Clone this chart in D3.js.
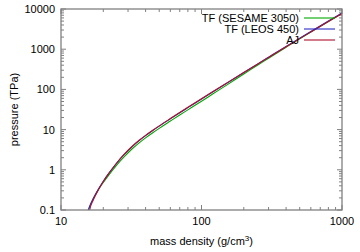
<!DOCTYPE html>
<html>
<head>
<meta charset="utf-8">
<script src="https://cdn.jsdelivr.net/npm/d3@7"></script>
<style>
  body { margin: 0; background: #fff; }
  text { font-family: "Liberation Sans", Arial, sans-serif; font-size: 11px; fill: #000; }
</style>
</head>
<body>
<div id="chart"></div>
<script>
// mass density (g/cm^3), shared by all curves
const density = [15.5, 16, 17, 18, 20, 22, 25, 28, 32, 36, 40, 45, 50, 60, 70, 80,
  100, 120, 150, 200, 250, 300, 400, 500, 600, 800, 1000];

// pressure (TPa)
const sesame3050 = [0.088, 0.121, 0.193, 0.278, 0.484, 0.762, 1.33, 2.06, 3.29, 4.69, 6.23, 8.36,
  10.75, 16.3, 23.1, 31.0, 50.7, 76.5, 126, 242, 397, 597, 1122, 1820, 2680, 4897, 7780];
const leos450 = [0.092, 0.124, 0.195, 0.285, 0.519, 0.835, 1.49, 2.34, 3.73, 5.32, 7.07, 9.49,
  12.2, 18.5, 26.2, 35.2, 57.5, 85.9, 140, 262, 426, 632, 1175, 1884, 2763, 5023, 7962];
const aj = [0.05, 0.1, 0.18, 0.27, 0.51, 0.83, 1.5, 2.38, 3.8, 5.42, 7.2, 9.65,
  12.4, 18.8, 26.6, 35.8, 58.5, 87, 141, 262, 423, 624, 1150, 1835, 2680, 4860, 7700];

const seriesNames = ["TF (SESAME 3050)", "TF (LEOS 450)", "AJ"];
const seriesColors = ["#00a800", "#2a2ac8", "#b0102a"];
const seriesValues = [sesame3050, leos450, aj];

const xTicks = [10, 100, 1000];
const yTicks = [0.1, 1, 10, 100, 1000, 10000];

const width = 360,
  height = 252,
  margin = { top: 9, right: 18, bottom: 42, left: 61 };

const svg = d3
  .select("#chart")
  .append("svg")
  .attr("width", width)
  .attr("height", height);

const x = d3.scaleLog().domain([10, 1000]).range([margin.left, width - margin.right]);
const y = d3.scaleLog().domain([0.1, 10000]).range([height - margin.bottom, margin.top]);

svg
  .append("clipPath")
  .attr("id", "plot_clip")
  .append("rect")
  .attr("x", margin.left)
  .attr("y", margin.top)
  .attr("width", width - margin.left - margin.right)
  .attr("height", height - margin.top - margin.bottom);

// minor ticks: 2..9 in each decade
function minorTicks(lo, hi) {
  const out = [];
  for (let d = lo; d < hi; d *= 10) {
    for (let k = 2; k <= 9; k++) out.push(d * k);
  }
  return out;
}

const tickColor = "#808080";
const ticks = svg.append("g").attr("stroke", tickColor).attr("stroke-width", 1);

function drawTicks(values, len) {
  values.forEach(function (v) {
    // bottom + top
    ticks.append("line")
      .attr("x1", x(v)).attr("x2", x(v))
      .attr("y1", y.range()[0]).attr("y2", y.range()[0] - len);
    ticks.append("line")
      .attr("x1", x(v)).attr("x2", x(v))
      .attr("y1", y.range()[1]).attr("y2", y.range()[1] + len);
  });
}
function drawYTicks(values, len) {
  values.forEach(function (v) {
    ticks.append("line")
      .attr("y1", y(v)).attr("y2", y(v))
      .attr("x1", x.range()[0]).attr("x2", x.range()[0] + len);
    ticks.append("line")
      .attr("y1", y(v)).attr("y2", y(v))
      .attr("x1", x.range()[1]).attr("x2", x.range()[1] - len);
  });
}
drawTicks(xTicks, 5);
drawTicks(minorTicks(10, 1000), 3);
drawYTicks(yTicks, 5);
drawYTicks(minorTicks(0.1, 10000), 3);

// tick labels
svg.append("g")
  .selectAll("text")
  .data(xTicks)
  .enter()
  .append("text")
  .attr("x", (d) => x(d))
  .attr("y", height - margin.bottom + 15)
  .attr("text-anchor", "middle")
  .text((d) => d);

svg.append("g")
  .selectAll("text")
  .data(yTicks)
  .enter()
  .append("text")
  .attr("x", margin.left - 6)
  .attr("y", (d) => y(d) + 4)
  .attr("text-anchor", "end")
  .text((d) => d);

// axis titles
svg.append("text")
  .attr("transform", `translate(18, ${(margin.top + height - margin.bottom) / 2}) rotate(-90)`)
  .attr("text-anchor", "middle")
  .text("pressure (TPa)");

const xTitle = svg.append("text")
  .attr("x", (margin.left + width - margin.right) / 2)
  .attr("y", height - 7)
  .attr("text-anchor", "middle");
xTitle.append("tspan").text("mass density (g/cm");
xTitle.append("tspan").attr("dy", -4).style("font-size", "8px").text("3");
xTitle.append("tspan").attr("dy", 4).text(")");

// curves
const line = d3.line()
  .x((d) => x(d[0]))
  .y((d) => y(d[1]))
  .curve(d3.curveMonotoneX);

const curves = svg.append("g").attr("clip-path", "url(#plot_clip)");
seriesValues.forEach(function (vals, i) {
  curves.append("path")
    .datum(density.map((r, j) => [r, vals[j]]))
    .attr("fill", "none")
    .attr("stroke", seriesColors[i])
    .attr("stroke-width", 1.1)
    .attr("d", line);
});

// legend
const legend = svg.append("g");
seriesNames.forEach(function (name, i) {
  const ly = 18 + i * 11;
  legend.append("text")
    .attr("x", 299)
    .attr("y", ly + 4)
    .attr("text-anchor", "end")
    .text(name);
  legend.append("line")
    .attr("x1", 304).attr("x2", 335)
    .attr("y1", ly).attr("y2", ly)
    .attr("stroke", seriesColors[i])
    .attr("stroke-width", 1.1);
});

// border
svg.append("rect")
  .attr("x", margin.left)
  .attr("y", margin.top)
  .attr("width", width - margin.left - margin.right)
  .attr("height", height - margin.top - margin.bottom)
  .attr("fill", "none")
  .attr("stroke", tickColor)
  .attr("stroke-width", 1.3);
</script>
</body>
</html>
